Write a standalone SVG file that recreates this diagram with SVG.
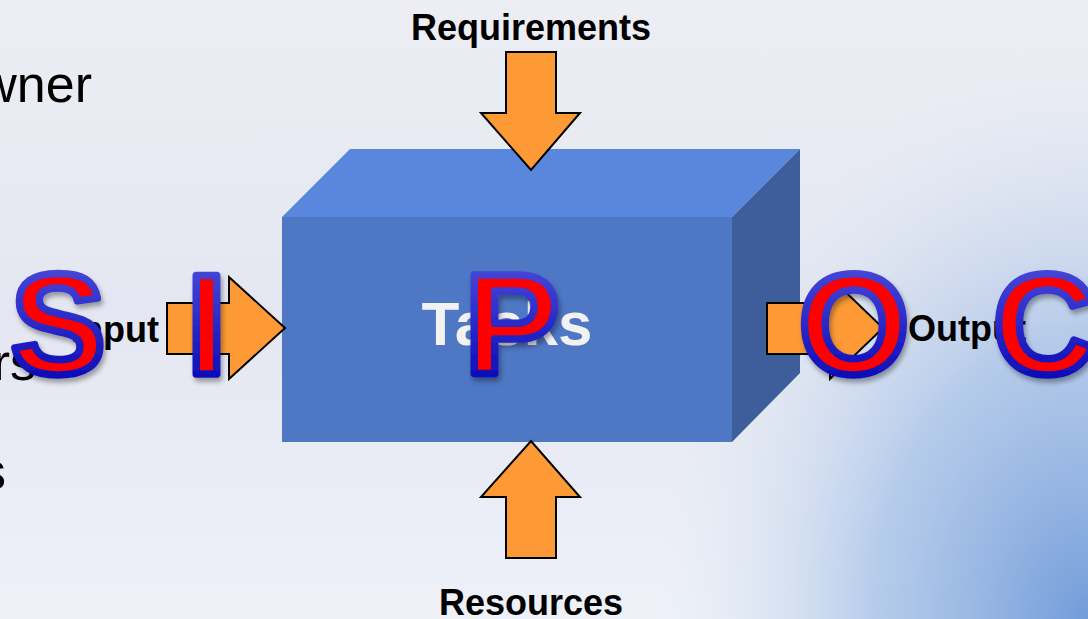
<svg xmlns="http://www.w3.org/2000/svg" width="1088" height="619" viewBox="0 0 1088 619">
  <defs>
    <linearGradient id="bgBase" x1="0" y1="0" x2="0" y2="1">
      <stop offset="0" stop-color="#eceef4"/>
      <stop offset="0.5" stop-color="#e4e7f1"/>
      <stop offset="1" stop-color="#eef1f8"/>
    </linearGradient>
    <radialGradient id="bgBlue" cx="0" cy="0" r="1" gradientUnits="userSpaceOnUse" gradientTransform="translate(1088 619) scale(430 560)">
      <stop offset="0" stop-color="#729cd9" stop-opacity="1"/>
      <stop offset="0.5" stop-color="#a4c0e7" stop-opacity="0.75"/>
      <stop offset="1" stop-color="#dfe6f3" stop-opacity="0"/>
    </radialGradient>
    <linearGradient id="letterStroke" x1="0" y1="0" x2="0" y2="1">
      <stop offset="0" stop-color="#5252de"/>
      <stop offset="1" stop-color="#0000b0"/>
    </linearGradient>
    <filter id="shadow" x="-20%" y="-20%" width="140%" height="150%">
      <feDropShadow dx="2" dy="4" stdDeviation="2.5" flood-color="#000" flood-opacity="0.35"/>
    </filter>
    <style>
      .bg-text { font-family: "Liberation Sans", Arial, sans-serif; font-size: 52px; fill: #000; }
      .label { font-family: "Liberation Sans", Arial, sans-serif; font-size: 36px; font-weight: bold; fill: #000; }
      .arrow { fill: #fd9a35; stroke: #000; stroke-width: 2; stroke-linejoin: miter; }
      .letter { font-family: "Liberation Sans", Arial, sans-serif; font-size: 142px; font-weight: bold; fill: #ff0000; stroke: url(#letterStroke); stroke-width: 7.5; stroke-linejoin: round; filter: url(#shadow); }
    </style>
  </defs>

  <g id="background">
    <rect x="0" y="0" width="1088" height="619" fill="url(#bgBase)"/>
    <rect x="0" y="0" width="1088" height="619" fill="url(#bgBlue)"/>
  </g>

  <g id="slide-text">
    <text class="bg-text" x="92" y="102" text-anchor="end">wner</text>
    <text class="bg-text" x="36" y="380" text-anchor="end">rs</text>
    <text class="bg-text" x="6" y="489" text-anchor="end">s</text>
  </g>

  <g id="tasks-box">
    <polygon points="282,217 350,149 800,149 732,217" fill="#5a87de"/>
    <polygon points="732,217 800,149 800,373 732,442" fill="#3d5e9a"/>
    <rect x="282" y="217" width="450" height="225" fill="#4e77c4"/>
    <text x="507" y="345" text-anchor="middle" font-family="Liberation Sans, Arial, sans-serif" font-size="62" font-weight="bold" fill="#f2f2f2">Tasks</text>
  </g>

  <g id="connectors">
    <polygon class="arrow" points="506,52 556,52 556,113 580,113 531,170 481,113 506,113"/>
    <polygon class="arrow" points="506,558 556,558 556,497 580,497 531,441 481,497 506,497"/>
    <polygon class="arrow" points="167,303 229,303 229,277 285,328 229,379 229,354 167,354"/>
    <polygon class="arrow" points="767,303 830,303 830,277 883,328 830,379 830,354 767,354"/>
  </g>

  <g id="requirements">
    <text class="label" x="531" y="40" text-anchor="middle">Requirements</text>
  </g>
  <g id="resources">
    <text class="label" x="531" y="615" text-anchor="middle">Resources</text>
  </g>
  <g id="input">
    <text class="label" x="159" y="342" text-anchor="end">Input</text>
  </g>
  <g id="output">
    <text class="label" x="908" y="341">Output</text>
  </g>

  <g id="sipoc">
    <text class="letter" x="58" y="374" text-anchor="middle">S</text>
    <text class="letter" x="206.5" y="374" text-anchor="middle">I</text>
    <text class="letter" x="512" y="374" text-anchor="middle">P</text>
    <text class="letter" x="854" y="374" text-anchor="middle">O</text>
    <text class="letter" x="993" y="374">C</text>
  </g>
</svg>
